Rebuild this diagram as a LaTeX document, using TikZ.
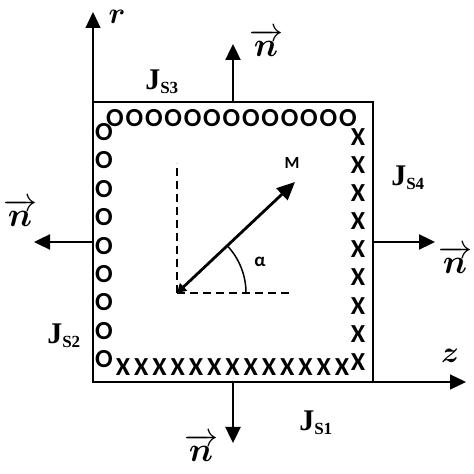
\RequirePackage{fix-cm}
\documentclass[tikz,border=0pt]{standalone}
\usepackage{amsmath}
\usepackage{fontspec}
\setmainfont{Liberation Serif}
\newfontfamily\carl{Carlito}
\usetikzlibrary{arrows.meta}

\tikzset{
  bigtip/.style={-{Triangle[length=16pt,width=15pt]}},
  normal/.style={bigtip, line width=2.4pt},
  jlabel/.style={font=\fontsize{30}{32}\selectfont\bfseries},
  nlabel/.style={font=\fontsize{34}{36}\selectfont},
  axlabel/.style={font=\fontsize{30}{32}\selectfont},
  curr/.style={font=\carl\bfseries\fontsize{26}{27}\selectfont, inner sep=0pt}
}

\begin{document}
\begin{tikzpicture}[x=1pt,y=1pt]
\useasboundingbox (0,0) rectangle (474,474);

%% corners of the box
\coordinate (bl) at (93,92);
\coordinate (br) at (373,92);
\coordinate (tr) at (373,372);
\coordinate (tl) at (93,372);

%% axes
\coordinate (rtip) at (93,462);
\coordinate (ztip) at (466,92);
\draw[bigtip, line width=1.2pt] (bl) -- (rtip);
\draw[bigtip, line width=1.2pt] (bl) -- (ztip);
\node[axlabel, inner sep=1pt] (r) at (117,457) {$\boldsymbol{r}$};
\node[axlabel] (z) at (450,118) {$\boldsymbol{z}$};

%% box
\draw[line width=1.6pt] (bl) -- (br) -- (tr) -- (tl) -- cycle;

%% normals
\coordinate (ntop0) at (233,372);
\coordinate (ntop1) at (233,430);
\coordinate (nlft0) at (93,232);
\coordinate (nlft1) at (34,232);
\coordinate (nrgt0) at (373,232);
\coordinate (nrgt1) at (435,232);
\coordinate (nbot0) at (233,92);
\coordinate (nbot1) at (233,31);
\draw[normal] (ntop0) -- (ntop1);
\draw[normal] (nlft0) -- (nlft1);
\draw[normal] (nrgt0) -- (nrgt1);
\draw[normal] (nbot0) -- (nbot1);
\node[nlabel] (ntop) at (266,431) {$\overrightarrow{\boldsymbol{n}}$};
\node[nlabel] (nlft) at (20,261) {$\overrightarrow{\boldsymbol{n}}$};
\node[nlabel] (nrgt) at (455,214) {$\overrightarrow{\boldsymbol{n}}$};
\node[nlabel] (nbot) at (201,26) {$\overrightarrow{\boldsymbol{n}}$};

%% surface currents
\node[jlabel] (js3) at (162,392) {J\textsubscript{\fontsize{17}{18}\selectfont S3}};
\node[jlabel] (js4) at (408,296) {J\textsubscript{\fontsize{17}{18}\selectfont S4}};
\node[jlabel] (js2) at (64,138) {J\textsubscript{\fontsize{17}{18}\selectfont S2}};
\node[jlabel] (js1) at (316,51) {J\textsubscript{\fontsize{17}{18}\selectfont S1}};

\foreach \i in {0,...,12}
  \node[curr] (top\i) at (115+19.4*\i,356) {O};
\foreach \i in {0,...,8}
  \node[curr] (lft\i) at (104,342-28.4*\i) {O};
\foreach \i in {0,...,12}
  \node[curr] (bot\i) at (123+18.25*\i,107) {X};
\foreach \i in {0,...,8}
  \node[curr] (rgt\i) at (358,337-28.1*\i) {X};

%% magnetisation
\coordinate (o) at (177,181);
\coordinate (vup) at (177,311);
\coordinate (hrt) at (293,181);
\coordinate (mtip) at (295,292);
\draw[line width=1.7pt, dash pattern=on 8pt off 5pt] (o) -- (vup);
\draw[line width=1.7pt, dash pattern=on 8pt off 5pt] (o) -- (hrt);
\draw[{Triangle[length=9pt,width=10pt]}-{Triangle[length=18pt,width=16pt]}, line width=2.8pt] (o) -- (mtip);
\draw[line width=1.5pt] ([shift={(0:69)}]o) arc[start angle=0, end angle=43.2, radius=69];
\node[font=\carl\bfseries\fontsize{17}{18}\selectfont] (m) at (292,311) {M};
\node[font=\carl\bfseries\fontsize{19}{20}\selectfont] (alpha) at (260,212) {α};

\end{tikzpicture}
\end{document}
